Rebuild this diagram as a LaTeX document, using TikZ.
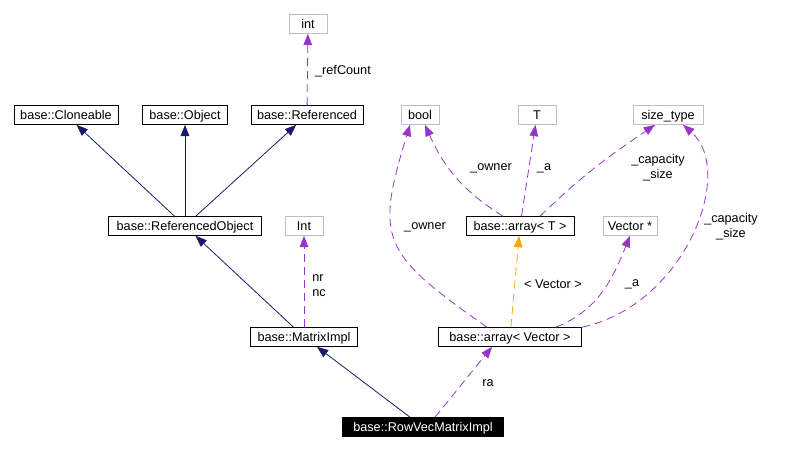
\documentclass[tikz,border=0pt]{standalone}
\usepackage{fontspec}
\setmainfont{Liberation Sans}
\usepackage{tikz}
\usetikzlibrary{
    arrows.meta,                      % puntas Triangle
    calc                              % desplazar anclas ($(a)+(1,0)$)
}
\definecolor{inh_blue}{RGB}{25,25,112}
\definecolor{use_purple}{RGB}{154,50,205}
\definecolor{tpl_orange}{RGB}{255,165,0}
\definecolor{box_grey}{RGB}{191,191,191}
\tikzset{
    cls/.style={
        rectangle, draw=black, line width=0.75pt,
        minimum height=14pt, inner sep=0pt,
        text height=6.8pt, text depth=0pt,
        align=center
    },
    ext/.style={
        cls, draw=box_grey
    },
    focus/.style={
        cls, fill=black, text=white
    },
    inherit/.style={
        -{Triangle[length=8.5pt,width=6.5pt]}, line width=0.6pt, color=inh_blue
    },
    usage/.style={
        -{Triangle[length=8.5pt,width=6.5pt]}, line width=0.6pt, color=use_purple,
        dash pattern=on 6pt off 3.75pt
    },
    tmpl/.style={
        usage, color=tpl_orange
    },
    elabel/.style={
        inner sep=0pt, align=center
    }
}

\begin{document}
\begin{tikzpicture}[x=0.75pt, y=0.75pt, font=\fontsize{9.5}{11.25}\selectfont]
    \useasboundingbox (0,0) rectangle (806,-451);
    \node[ext, minimum width=28.5pt]   (refint) at (308,-24)  {int};
    \node[cls, minimum width=78pt]     (clon)   at (66,-115)  {base::Cloneable};
    \node[cls, minimum width=63.75pt]  (obj)    at (185,-115) {base::Object};
    \node[cls, minimum width=84pt]     (refd)   at (307,-115) {base::Referenced};
    \node[ext, minimum width=28.5pt]   (bool)   at (420,-115) {bool};
    \node[ext, minimum width=28.5pt]   (T)      at (537,-115) {T};
    \node[ext, minimum width=52.5pt]   (stype)  at (668,-115) {size\_type};
    \node[cls, minimum width=114.75pt] (refobj) at (185,-226) {base::ReferencedObject};
    \node[ext, minimum width=28.5pt]   (dimint) at (304,-226) {Int};
    \node[cls, minimum width=81pt]     (arrT)   at (520,-226) {base::array< T >};
    \node[ext, minimum width=40.5pt]   (vec)    at (630,-226) {Vector *};
    \node[cls, minimum width=80.25pt]  (mat)    at (304,-337) {base::MatrixImpl};
    \node[cls, minimum width=107.25pt] (arrV)   at (510,-337) {base::array< Vector >};
    \node[focus, minimum width=120.75pt] (rowvec) at (423,-427) {base::RowVecMatrixImpl};

    \draw[inherit] (refobj) -- (clon);
    \draw[inherit] (refobj) -- (obj);
    \draw[inherit] (refobj) -- (refd);
    \draw[inherit] (mat) -- (refobj);
    \draw[inherit] (rowvec) -- (mat);
    \draw[usage] (refd) -- (refint);
    \draw[usage] (mat) -- (dimint);
    \draw[usage] ($(rowvec.north)+(12,0)$) -- ($(arrV.south)+(-18,0)$);
    \draw[tmpl] (arrV) -- (arrT);
    \draw[usage] ($(arrT.north)+(-17,0)$) to[out=148,in=-66] ($(bool.south)+(5,0)$);
    \draw[usage] (arrT) -- (T);
    \draw[usage] ($(arrT.north)+(20,0)$) to[out=44,in=-146] ($(stype.south)+(-13,0)$);
    \draw[usage] ($(arrV.north)+(-23,0)$) to[out=145,in=-107,out distance=97pt,in distance=90pt] ($(bool.south)+(-10,0)$);
    \draw[usage] ($(arrV.north)+(46,0)$) to[out=22,in=-112] (vec.south);
    \draw[usage] (arrV.north east) to[out=12,in=-41,out distance=79pt,in distance=53pt] ($(stype.south)+(15,0)$);

    \node[elabel] (lref)  at (343,-71)  {\_refCount};
    \node[elabel, align=left] (ldim) at (319,-286) {nr\\nc};
    \node[elabel] (lra)   at (488,-383) {ra};
    \node[elabel] (lvec)  at (553,-284) {< Vector >};
    \node[elabel] (la2)   at (632,-284) {\_a};
    \node[elabel] (lown2) at (425,-227) {\_owner};
    \node[elabel] (lcap2) at (731,-227) {\_capacity\\\_size};
    \node[elabel] (lown1) at (491,-168) {\_owner};
    \node[elabel] (la1)   at (544,-168) {\_a};
    \node[elabel] (lcap1) at (658,-168) {\_capacity\\\_size};
\end{tikzpicture}
\end{document}
